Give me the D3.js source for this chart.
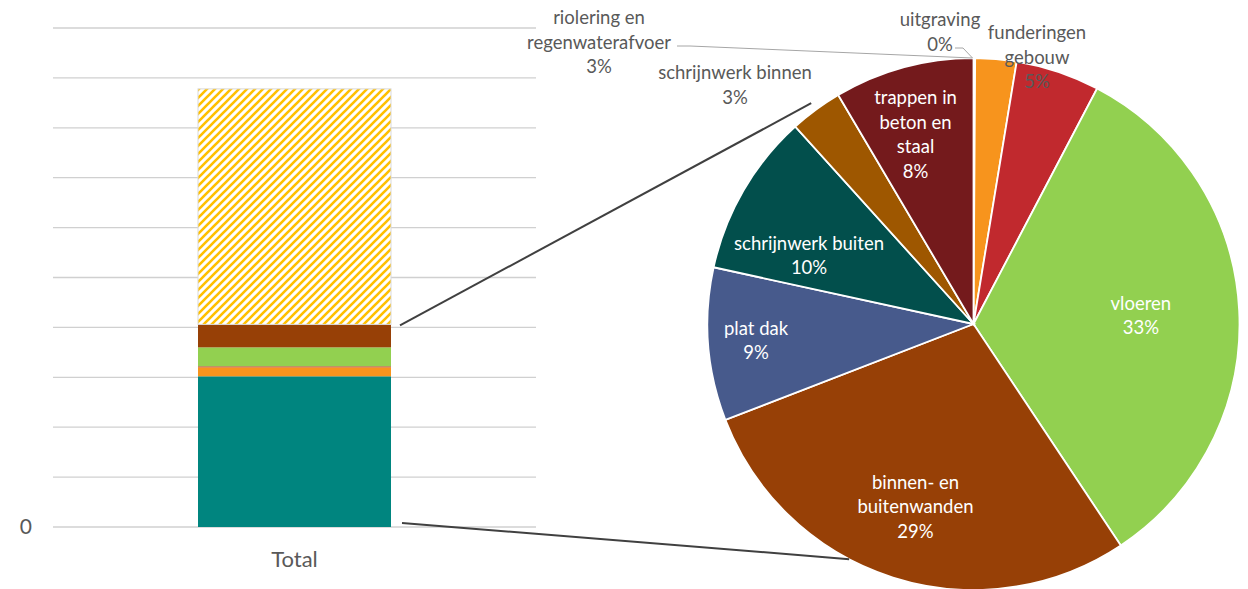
<!DOCTYPE html>
<html>
<head>
<meta charset="utf-8">
<script src="https://cdn.jsdelivr.net/npm/d3@7"></script>
<style>
  body { margin: 0; background: #fff; }
  svg { display: block; font-family: Lato, "Liberation Sans", sans-serif; }
</style>
</head>
<body>
<svg id="chart" width="1248" height="589"></svg>
<script>
// stacked bar (left) values, in gridline units
const barCategory = ["Total"];
const barSegments = ["rest", "a", "b", "c", "d", "overig"];
const barValues = [3.02, 0.18, 0.02, 0.38, 0.46, 4.72];
const barColors = ["#00857f", "#f7941d", "#c0392b", "#92d050", "#974006", "url(#hatch)"];
const yTicks = [0, 1, 2, 3, 4, 5, 6, 7, 8, 9, 10];

// pie (right), percentages clockwise from 12 o'clock
const pieNames = ["uitgraving", "riolering en regenwaterafvoer", "funderingen gebouw", "vloeren",
  "binnen- en buitenwanden", "plat dak", "schrijnwerk buiten", "schrijnwerk binnen", "trappen in beton en staal"];
const pieValues = [0.1, 2.5, 5.1, 33.0, 28.5, 9.3, 9.9, 3.2, 8.5];
const pieLabels = ["0%", "3%", "5%", "33%", "29%", "9%", "10%", "3%", "8%"];
const pieColors = ["#f7941d", "#f7941d", "#c1292e", "#92d050", "#974006", "#475a8c", "#024f4c", "#9e5700", "#741a1c"];

// label layout: inside labels by radius factor, outside labels placed by hand (like Excel)
const labelLayout = {
  "uitgraving": { pos: [940, 20], lines: ["uitgraving"], out: true },
  "riolering en regenwaterafvoer": { pos: [599, 18], lines: ["riolering en", "regenwaterafvoer"], out: true },
  "funderingen gebouw": { pos: [1037, 33], lines: ["funderingen", "gebouw"], out: true },
  "vloeren": { r: 0.63, lines: ["vloeren"] },
  "binnen- en buitenwanden": { r: 0.72, lines: ["binnen- en", "buitenwanden"] },
  "plat dak": { r: 0.82, lines: ["plat dak"] },
  "schrijnwerk buiten": { r: 0.67, da: -0.13, lines: ["schrijnwerk buiten"] },
  "schrijnwerk binnen": { pos: [735, 73], lines: ["schrijnwerk binnen"], out: true },
  "trappen in beton en staal": { r: 0.745, da: -0.03, lines: ["trappen in", "beton en", "staal"] }
};

const svg = d3.select("#chart");
const fontSize = 18.5;
const lineH = 24.5;

// hatch pattern for the top segment
const pat = svg.append("defs").append("pattern")
  .attr("id", "hatch").attr("patternUnits", "userSpaceOnUse")
  .attr("width", 8).attr("height", 8);
pat.append("rect").attr("width", 8).attr("height", 8).attr("fill", "#fff");
pat.append("path")
  .attr("d", "M-2,2 L2,-2 M0,8 L8,0 M6,10 L10,6")
  .attr("stroke", "#ffc000").attr("stroke-width", 2.6);

// ---- bar chart ----
const x = d3.scaleBand().domain(barCategory).range([53, 536]).paddingInner(0.6).paddingOuter(0.3);
const y = d3.scaleLinear().domain([0, 10]).range([527, 28]);

svg.append("g").selectAll("line").data(yTicks).join("line")
  .attr("x1", 53).attr("x2", 536)
  .attr("y1", d => y(d)).attr("y2", d => y(d))
  .attr("stroke", "#d0d0d0").attr("stroke-width", 1.3);

svg.append("text").attr("x", 32).attr("y", y(0)).attr("dy", "0.35em")
  .attr("text-anchor", "end").attr("fill", "#595959").attr("font-size", 21).text("0");

const bw = 193;
const bx = x("Total") + x.bandwidth() / 2 - bw / 2;
const stacks = d3.cumsum(barValues);
svg.append("g").selectAll("rect").data(barValues).join("rect")
  .attr("x", bx).attr("width", bw)
  .attr("y", (d, i) => y(stacks[i]))
  .attr("height", (d, i) => y(stacks[i] - d) - y(stacks[i]))
  .attr("fill", (d, i) => barColors[i])
  .attr("stroke", (d, i) => i === barValues.length - 1 ? "#d9d9d9" : "none")
  .attr("stroke-width", 1);

svg.append("text").attr("x", x("Total") + x.bandwidth() / 2).attr("y", 559).attr("dy", "0.35em")
  .attr("text-anchor", "middle").attr("fill", "#595959").attr("font-size", 22).text("Total");

// ---- pie ----
const cx = 973.5, cy = 324, R = 266;
const pie = d3.pie().sort(null).value(d => d)(pieValues);
const arc = d3.arc().innerRadius(0).outerRadius(R);
const g = svg.append("g").attr("transform", `translate(${cx},${cy})`);
g.selectAll("path").data(pie).join("path")
  .attr("d", arc)
  .attr("fill", (d, i) => pieColors[i])
  .attr("stroke", "#fff").attr("stroke-width", 1.8);

// connector lines between bar and pie
const bRight = bx + bw;
const barTopStack = y(stacks[4]);
const ang1 = (pie[7].startAngle + pie[7].endAngle) / 2;
const ang2 = pie[4].startAngle + (pie[4].endAngle - pie[4].startAngle) * 0.6;
svg.append("line")
  .attr("x1", bRight + 9).attr("y1", barTopStack + 1)
  .attr("x2", cx + (R + 8) * Math.sin(ang1)).attr("y2", cy - (R + 8) * Math.cos(ang1))
  .attr("stroke", "#404040").attr("stroke-width", 2);
svg.append("line")
  .attr("x1", bRight + 11).attr("y1", y(0) - 4)
  .attr("x2", cx + R * Math.sin(ang2)).attr("y2", cy - R * Math.cos(ang2))
  .attr("stroke", "#404040").attr("stroke-width", 2);

// leader lines for small slices
const pieTop = [cx - 1, cy - R];
svg.append("polyline")
  .attr("points", [[677, 46], [690, 46], pieTop].map(p => p.join(",")).join(" "))
  .attr("fill", "none").attr("stroke", "#a6a6a6").attr("stroke-width", 1);
svg.append("polyline")
  .attr("points", [[955, 48], [963, 48], pieTop].map(p => p.join(",")).join(" "))
  .attr("fill", "none").attr("stroke", "#a6a6a6").attr("stroke-width", 1);

// labels
pie.forEach((d, i) => {
  const L = labelLayout[pieNames[i]];
  const lines = L.lines.concat([pieLabels[i]]);
  let px, py;
  if (L.out) {
    [px, py] = L.pos;
  } else {
    const a = (d.startAngle + d.endAngle) / 2 + (L.da || 0);
    px = cx + R * L.r * Math.sin(a);
    py = cy - R * L.r * Math.cos(a) - (lines.length - 1) * lineH / 2;
  }
  const t = svg.append("text")
    .attr("text-anchor", "middle")
    .attr("font-size", fontSize)
    .attr("fill", L.out ? "#595959" : "#fff");
  lines.forEach((s, k) => {
    t.append("tspan").attr("x", px).attr("y", py + k * lineH).attr("dy", "0.35em").text(s);
  });
});
</script>
</body>
</html>
